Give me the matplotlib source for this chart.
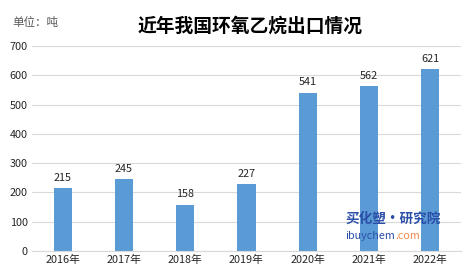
import matplotlib
matplotlib.use("Agg")
import matplotlib.pyplot as plt
from matplotlib.transforms import offset_copy

plt.rcParams['font.family'] = ['Noto Sans CJK SC', 'DejaVu Sans']

years = ["2016年", "2017年", "2018年", "2019年", "2020年", "2021年", "2022年"]
values = [215, 245, 158, 227, 541, 562, 621]
yticks = [0, 100, 200, 300, 400, 500, 600, 700]
title = "近年我国环氧乙烷出口情况"
unit = "单位：吨"

fig = plt.figure(figsize=(4.65, 2.79), dpi=100)
ax = fig.add_axes([0.069, 0.1004, 0.922, 0.735])

x = range(len(years))
bars = ax.bar(x, values, width=0.30, color="#5B9BD5", zorder=2)
for xi, v in zip(x, values):
    ax.text(xi, v + 18, str(v), ha="center", va="bottom", fontsize=7.8, color="#262626")

ax.set_xlim(-0.5, len(years) - 0.5)
ax.set_ylim(0, 700)
ax.set_yticks(yticks)
ax.set_yticklabels([str(t) for t in yticks], fontsize=7.8, color="#262626")
ax.set_xticks(list(x))
ax.set_xticklabels(years, fontsize=7.8, color="#262626")
ax.tick_params(length=0, pad=3)
ax.grid(axis="y", color="#D9D9D9", linewidth=0.8, zorder=0)
for s in ["top", "right", "left"]:
    ax.spines[s].set_visible(False)
ax.spines["bottom"].set_color("#D9D9D9")
ax.spines["bottom"].set_linewidth(0.8)

fig.text(0.538, 0.905, title, ha="center", va="center", fontsize=13.5, fontweight="bold", color="#000000")
fig.text(0.026, 0.92, unit, ha="left", va="center", fontsize=8.3, color="#595959")

# watermark
fig.text(0.742, 0.215, "买化塑·研究院", ha="left", va="center", fontsize=9.8,
         fontweight="bold", style="italic", color="#2B4FA8")
t1 = fig.text(0.742, 0.155, "ibuychem", ha="left", va="center", fontsize=7.8, color="#2B4FA8")
fig.canvas.draw()
bb = t1.get_window_extent(renderer=fig.canvas.get_renderer())
fig.text(bb.x1 / fig.bbox.width, 0.155, ".com", ha="left", va="center", fontsize=7.8, color="#F08A4B")

fig.savefig("out.png", dpi=100)
